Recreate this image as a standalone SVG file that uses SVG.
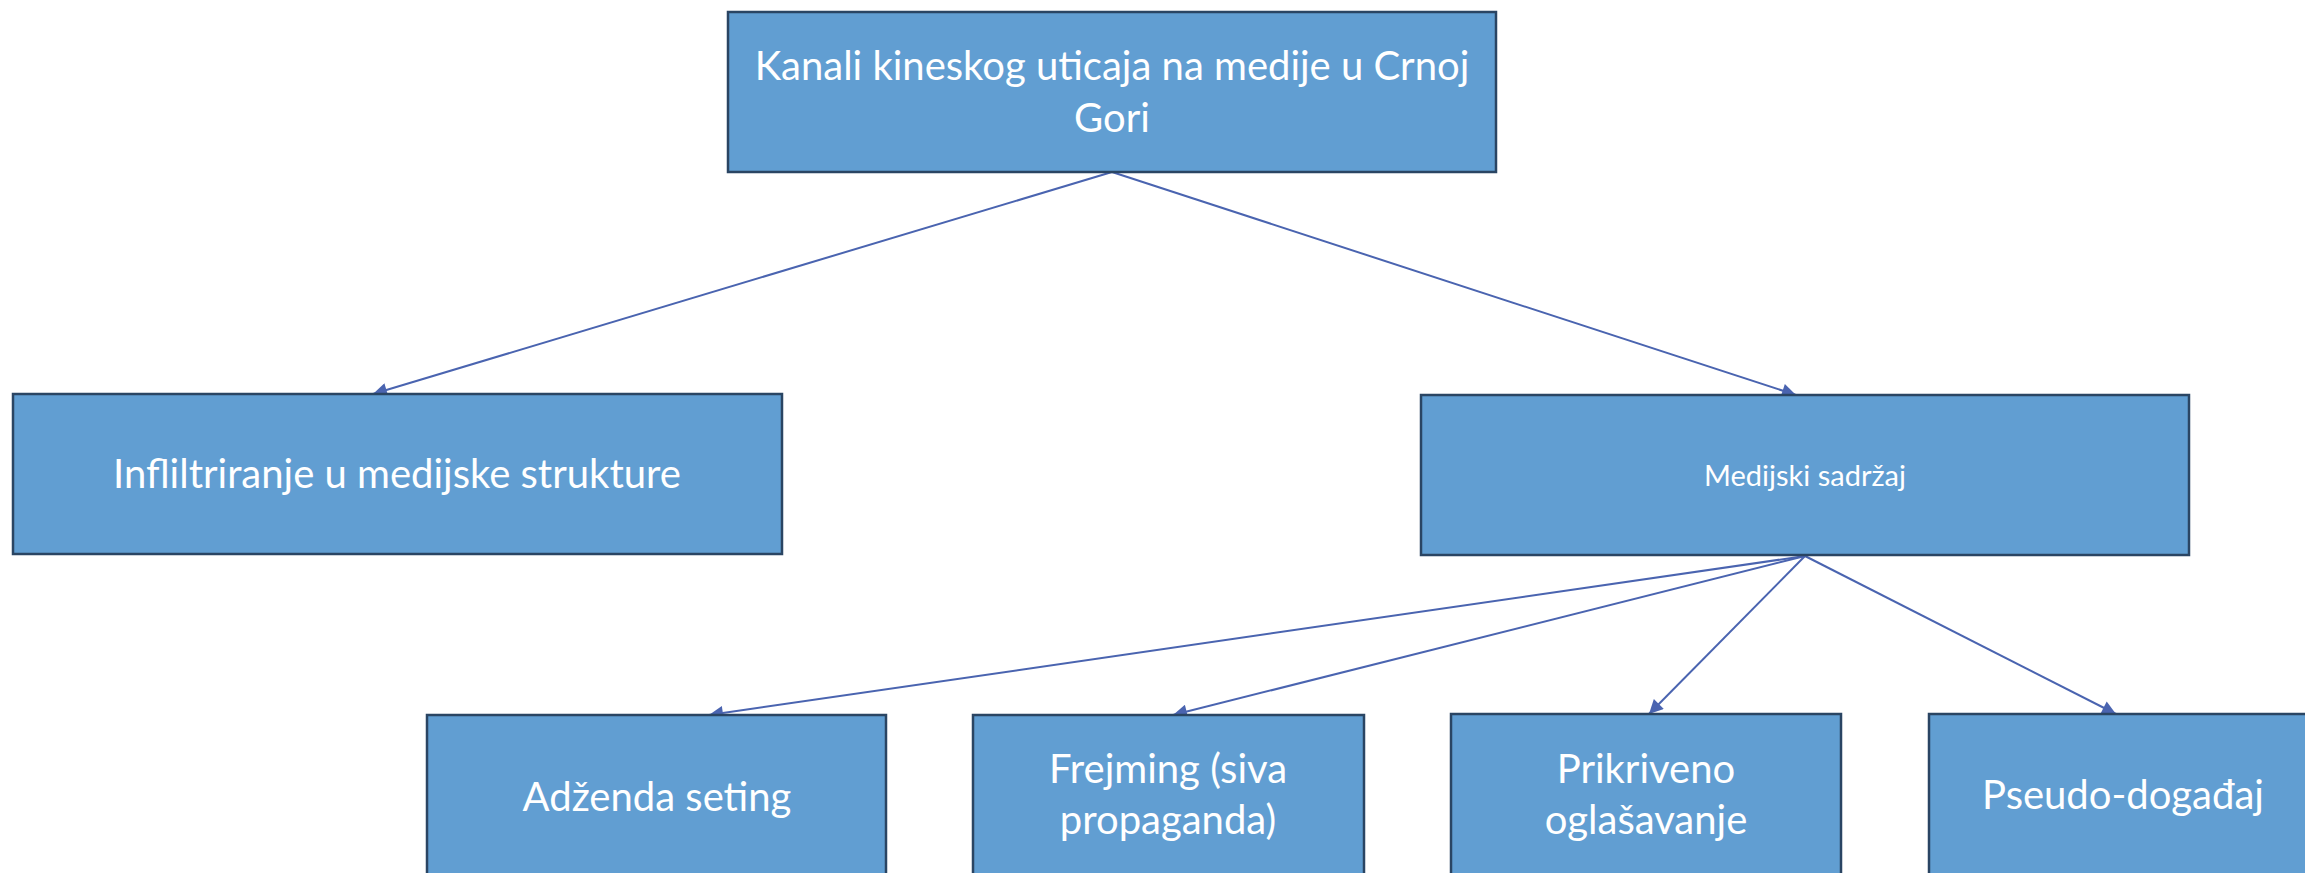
<svg xmlns="http://www.w3.org/2000/svg" width="2305" height="873" viewBox="0 0 2305 873">
<defs>
<style>
.box{fill:#619ed2;stroke:#2a4563;stroke-width:2.5}
.t{font-family:Lato,"Open Sans","Liberation Sans",sans-serif;fill:#ffffff;text-anchor:middle}
.big{font-size:40px}
.small{font-size:29px}
.c{stroke:#4a64b0;stroke-width:2;fill:none;marker-end:url(#ah)}
</style>
<marker id="ah" viewBox="0 0 10 10" refX="10" refY="5" markerWidth="8" markerHeight="7" markerUnits="strokeWidth" orient="auto">
<path d="M0,0 L10,5 L0,10 z" fill="#4a64b0"/>
</marker>
</defs>
<rect width="2305" height="873" fill="#ffffff"/>
<g id="connectors">
<line class="c" x1="1112" y1="172" x2="373" y2="394"/>
<line class="c" x1="1112" y1="172" x2="1796" y2="395"/>
<line class="c" x1="1805" y1="556" x2="709" y2="715"/>
<line class="c" x1="1805" y1="556" x2="1173" y2="715"/>
<line class="c" x1="1805" y1="556" x2="1649" y2="714"/>
<line class="c" x1="1805" y1="556" x2="2116" y2="714"/>
</g>
<g id="n-root">
<rect class="box" x="728" y="12" width="768" height="160"/>
<text class="t big" x="1112" y="80">Kanali kineskog uticaja na medije u Crnoj</text>
<text class="t big" x="1112" y="132">Gori</text>
</g>
<g id="n-infiltriranje">
<rect class="box" x="13" y="394" width="769" height="160"/>
<text class="t big" x="397" y="488">Infliltriranje u medijske strukture</text>
</g>
<g id="n-medijski">
<rect class="box" x="1421" y="395" width="768" height="160"/>
<text class="t small" x="1805" y="486">Medijski sadržaj</text>
</g>
<g id="n-adzenda">
<rect class="box" x="427" y="715" width="459" height="160"/>
<text class="t big" x="657" y="811">Adženda seting</text>
</g>
<g id="n-frejming">
<rect class="box" x="973" y="715" width="391" height="160"/>
<text class="t big" x="1168" y="783">Frejming (siva</text>
<text class="t big" x="1168" y="834">propaganda)</text>
</g>
<g id="n-prikriveno">
<rect class="box" x="1451" y="714" width="390" height="161"/>
<text class="t big" x="1646" y="783">Prikriveno</text>
<text class="t big" x="1646" y="834">oglašavanje</text>
</g>
<g id="n-pseudo">
<rect class="box" x="1929" y="714" width="392" height="161"/>
<text class="t big" x="2123" y="809">Pseudo-događaj</text>
</g>
</svg>
